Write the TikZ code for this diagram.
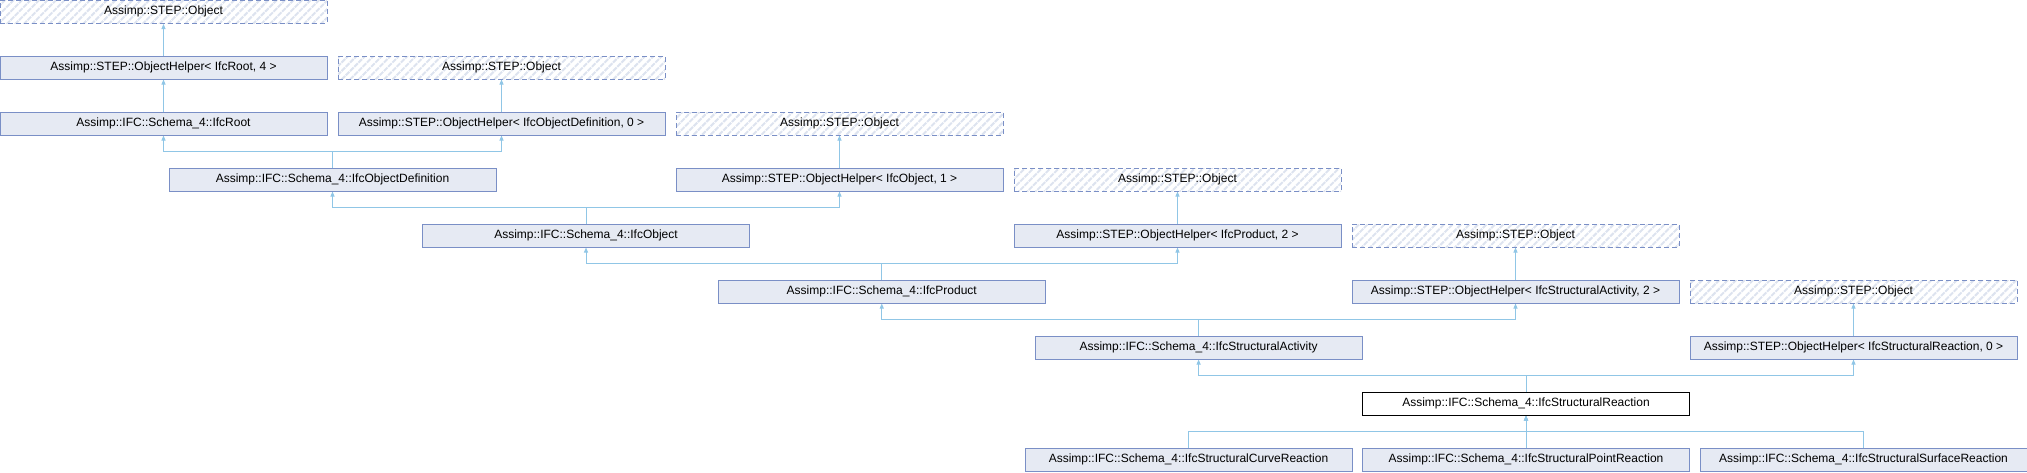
\documentclass[tikz,border=0pt]{standalone}
\usepackage{fontspec}
\setmainfont{Liberation Sans}
\usetikzlibrary{arrows.meta,patterns.meta}
\pgfdeclarelayer{bg}
\pgfsetlayers{bg,main}
\definecolor{boxfill}{HTML}{E6EAF3}
\definecolor{boxline}{HTML}{7A8FC6}
\definecolor{hatch}{HTML}{DDE3EF}
\definecolor{edgeblue}{HTML}{90C6E6}
\tikzset{
  cls/.style={draw=boxline, fill=boxfill, line width=1pt, minimum width=327pt,
    minimum height=23pt, inner sep=0pt, font=\fontsize{12}{14}\selectfont},
  ext/.style={cls, fill=none, dash pattern=on 5pt off 3pt,
    pattern={Lines[angle=45,distance=6pt,line width=2pt]}, pattern color=hatch},
  self/.style={cls, fill=white, draw=black},
  inherit/.style={draw=edgeblue, line width=1pt, -{Triangle[length=5pt,width=4pt]}}
}

\begin{document}
\begin{tikzpicture}[x=1pt, y=1pt]
        \useasboundingbox (0,0) rectangle (2027,-472);
        \node (obj0) [ext] at (163.5pt, -11.5pt) {Assimp::STEP::Object};
        \node (hlp1) [cls] at (163.5pt, -67.5pt) {Assimp::STEP::ObjectHelper< IfcRoot, 4 >};
        \node (obj1) [ext] at (501.5pt, -67.5pt) {Assimp::STEP::Object};
        \node (root) [cls] at (163.5pt, -123.5pt) {Assimp::IFC::Schema\_4::IfcRoot};
        \node (hlp2) [cls] at (501.5pt, -123.5pt) {Assimp::STEP::ObjectHelper< IfcObjectDefinition, 0 >};
        \node (obj2) [ext] at (839.5pt, -123.5pt) {Assimp::STEP::Object};
        \node (objdef) [cls] at (332.5pt, -179.5pt) {Assimp::IFC::Schema\_4::IfcObjectDefinition};
        \node (hlp3) [cls] at (839.5pt, -179.5pt) {Assimp::STEP::ObjectHelper< IfcObject, 1 >};
        \node (obj3) [ext] at (1177.5pt, -179.5pt) {Assimp::STEP::Object};
        \node (object) [cls] at (586pt, -235.5pt) {Assimp::IFC::Schema\_4::IfcObject};
        \node (hlp4) [cls] at (1177.5pt, -235.5pt) {Assimp::STEP::ObjectHelper< IfcProduct, 2 >};
        \node (obj4) [ext] at (1515.5pt, -235.5pt) {Assimp::STEP::Object};
        \node (product) [cls] at (881.75pt, -291.5pt) {Assimp::IFC::Schema\_4::IfcProduct};
        \node (hlp5) [cls] at (1515.5pt, -291.5pt) {Assimp::STEP::ObjectHelper< IfcStructuralActivity, 2 >};
        \node (obj5) [ext] at (1853.5pt, -291.5pt) {Assimp::STEP::Object};
        \node (activity) [cls] at (1198.6pt, -347.5pt) {Assimp::IFC::Schema\_4::IfcStructuralActivity};
        \node (hlp6) [cls] at (1853.5pt, -347.5pt) {Assimp::STEP::ObjectHelper< IfcStructuralReaction, 0 >};
        \node (reaction) [self] at (1526pt, -403.5pt) {Assimp::IFC::Schema\_4::IfcStructuralReaction};
        \node (curve) [cls] at (1188.5pt, -459.5pt) {Assimp::IFC::Schema\_4::IfcStructuralCurveReaction};
        \node (point) [cls] at (1526pt, -459.5pt) {Assimp::IFC::Schema\_4::IfcStructuralPointReaction};
        \node (surface) [cls] at (1863.5pt, -459.5pt) {Assimp::IFC::Schema\_4::IfcStructuralSurfaceReaction};
        \begin{pgfonlayer}{bg}
                \draw [inherit] (hlp1.north) -- (obj0.south);
                \draw [inherit] (root.north) -- (hlp1.south);
                \draw [inherit] (hlp2.north) -- (obj1.south);
                \draw [inherit] (objdef.north) -- ++(0,16) -| (root.south);
                \draw [inherit] (objdef.north) -- ++(0,16) -| (hlp2.south);
                \draw [inherit] (hlp3.north) -- (obj2.south);
                \draw [inherit] (object.north) -- ++(0,16) -| (objdef.south);
                \draw [inherit] (object.north) -- ++(0,16) -| (hlp3.south);
                \draw [inherit] (hlp4.north) -- (obj3.south);
                \draw [inherit] (product.north) -- ++(0,16) -| (object.south);
                \draw [inherit] (product.north) -- ++(0,16) -| (hlp4.south);
                \draw [inherit] (hlp5.north) -- (obj4.south);
                \draw [inherit] (activity.north) -- ++(0,16) -| (product.south);
                \draw [inherit] (activity.north) -- ++(0,16) -| (hlp5.south);
                \draw [inherit] (hlp6.north) -- (obj5.south);
                \draw [inherit] (reaction.north) -- ++(0,16) -| (activity.south);
                \draw [inherit] (reaction.north) -- ++(0,16) -| (hlp6.south);
                \draw [inherit] (curve.north) -- ++(0,16) -| (reaction.south);
                \draw [inherit] (point.north) -- (reaction.south);
                \draw [inherit] (surface.north) -- ++(0,16) -| (reaction.south);
        \end{pgfonlayer}
\end{tikzpicture}
\end{document}
